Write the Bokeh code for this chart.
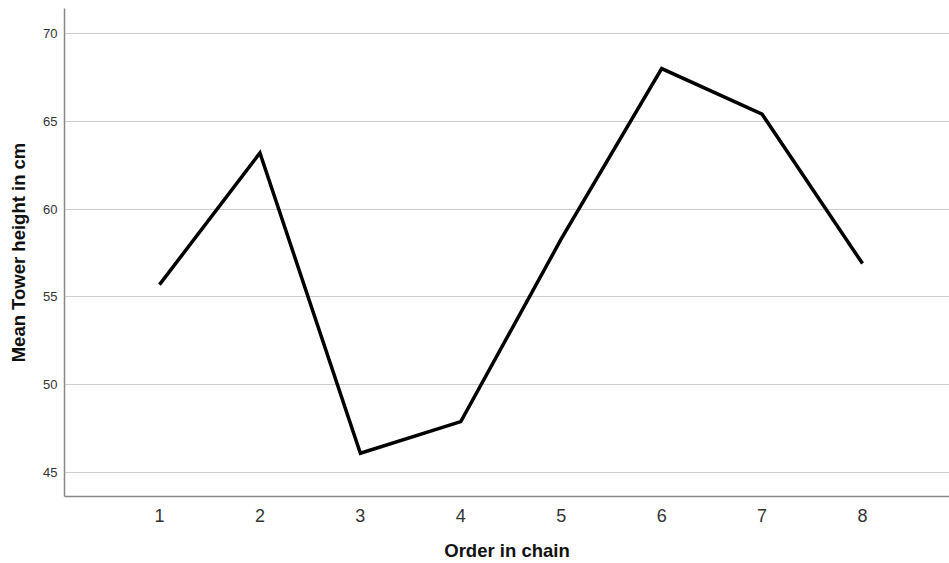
from bokeh.plotting import figure
from bokeh.models import Range1d, FixedTicker
from bokeh.embed import file_html
from bokeh.resources import INLINE

order = [1, 2, 3, 4, 5, 6, 7, 8]
mean_height = [55.7, 63.2, 46.1, 47.9, 58.3, 68.0, 65.4, 56.9]
y_ticks = [45, 50, 55, 60, 65, 70]

p = figure(width=949, height=563, output_backend="svg", toolbar_location=None,
           x_range=Range1d(0.054, 8.866), y_range=Range1d(43.64, 71.42),
           min_border_left=64, min_border_right=0, min_border_top=8, min_border_bottom=66)
p.outline_line_color = None
p.background_fill_color = "white"
p.border_fill_color = "white"

p.line(order, mean_height, line_color="black", line_width=3.5, line_join="miter")

font = "Liberation Sans"
p.xaxis.ticker = FixedTicker(ticks=order)
p.yaxis.ticker = FixedTicker(ticks=y_ticks)
for ax in (p.xaxis, p.yaxis):
    ax.axis_line_color = "#888888"
    ax.axis_line_width = 1.5
    ax.major_tick_line_color = None
    ax.minor_tick_line_color = None
    ax.major_tick_out = 0
    ax.major_tick_in = 0
    ax.major_label_text_font = font
    ax.major_label_text_color = "#333333"
    ax.axis_label_text_font = font
    ax.axis_label_text_font_style = "bold"
    ax.axis_label_text_color = "#111111"
    ax.axis_label_text_font_size = "18.5px"

p.xaxis.axis_label = "Order in chain"
p.yaxis.axis_label = "Mean Tower height in cm"
p.xaxis.major_label_text_font_size = "18px"
p.yaxis.major_label_text_font_size = "13px"
p.xaxis.major_label_standoff = 12
p.yaxis.major_label_standoff = 7
p.xaxis.axis_label_standoff = 15
p.yaxis.axis_label_standoff = 11

p.xgrid.grid_line_color = None
p.ygrid.grid_line_color = "#cccccc"
p.ygrid.grid_line_width = 1.2

open("out.html", "w").write(file_html(p, INLINE))
